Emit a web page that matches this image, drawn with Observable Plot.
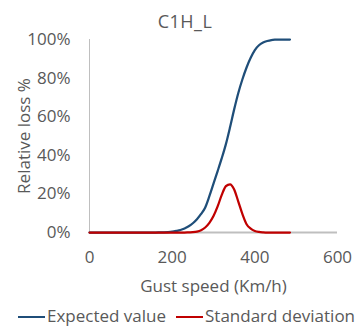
<!DOCTYPE html>
<html>
<head>
<meta charset="utf-8">
<script src="https://cdn.jsdelivr.net/npm/d3@7"></script>
<script src="https://cdn.jsdelivr.net/npm/@observablehq/plot@0.6"></script>
<style>
  body { margin: 0; background: #fff; font-family: "Open Sans", sans-serif; color: #595959; }
  #wrap { width: 362px; height: 329px; position: relative; overflow: hidden; }
  #title { position: absolute; left: 0; top: 9px; width: 370px; text-align: center; font-size: 18px; line-height: 24px; letter-spacing: 0.5px; z-index: 2; }
  #chart { position: absolute; left: 0; top: 28px; z-index: 1; }
  .lg { position: absolute; top: 304px; font-size: 17px; line-height: 24px; white-space: nowrap; }
  .sw { position: absolute; top: 316px; width: 27px; height: 0; border-top: 2.5px solid; }
</style>
</head>
<body>
<div id="wrap">
  <div id="title"></div>
  <div id="chart"></div>
  <div id="legend"></div>
</div>
<script>
const title = "C1H_L";
const xLabel = "Gust speed (Km/h)";
const yLabel = "Relative loss %";
const seriesNames = ["Expected value", "Standard deviation"];
const seriesColors = ["#1F4E79", "#C00000"];
const xTicks = [0, 200, 400, 600];
const yTicks = [0, 0.2, 0.4, 0.6, 0.8, 1.0];

const speed = [0,10,20,30,40,50,60,70,80,90,100,110,120,130,140,150,160,170,180,190,200,210,220,230,240,250,260,270,280,290,300,310,320,330,340,350,360,370,380,390,400,410,420,430,440,450,460,470,480,485];
const expected = [0,0,0,0,0,0,0,0,0,0,0,0,0,0,0,0,0,0.05,0.1,0.2,0.4,0.8,1.3,2.1,3.2,4.8,6.9,9.6,13.0,18.8,25.3,31.8,38.5,45.8,54.5,63.8,72.3,79.4,85.5,90.5,94.5,97.0,98.4,99.2,99.7,99.9,100,100,100,100];
const stdev = [0,0,0,0,0,0,0,0,0,0,0,0,0,0,0,0,0,0,0,0,0,0,0,0,0.1,0.2,0.5,1.2,2.6,5.0,8.5,13.5,19.5,24.0,25.0,22.3,16.0,9.5,4.3,2.0,0.8,0.3,0.1,0,0,0,0,0,0,0];

document.getElementById("title").textContent = title;

const data = [];
speed.forEach((s, i) => {
  data.push({speed: s, value: expected[i] / 100, series: seriesNames[0]});
  data.push({speed: s, value: stdev[i] / 100, series: seriesNames[1]});
});

const chart = Plot.plot({
  width: 362,
  height: 272,
  marginLeft: 89,
  marginRight: 25,
  marginTop: 11,
  marginBottom: 68,
  style: {fontFamily: "Open Sans, sans-serif", fontSize: "17px", color: "#595959", background: "transparent"},
  x: {domain: [0, 600]},
  y: {domain: [0, 1]},
  color: {domain: seriesNames, range: seriesColors},
  marks: [
    Plot.axisX({ticks: xTicks, tickSize: 0, tickPadding: 18, label: xLabel, labelAnchor: "center", labelArrow: "none", labelOffset: 59, fill: "#595959"}),
    Plot.axisY({ticks: yTicks, tickFormat: d3.format(".0%"), tickSize: 0, tickPadding: 19, label: yLabel, labelAnchor: "center", labelArrow: "none", labelOffset: 72, fill: "#595959"}),
    Plot.ruleX([0], {stroke: "#BFBFBF", strokeWidth: 1}),
    Plot.ruleY([0], {stroke: "#BFBFBF", strokeWidth: 2}),
    Plot.line(data, {x: "speed", y: "value", z: "series", stroke: "series", strokeWidth: 2.25, curve: "monotone-x"})
  ]
});
document.getElementById("chart").appendChild(chart);

const legend = document.getElementById("legend");
const swX = [18, 176];
const txX = [47, 205];
legend.innerHTML = seriesNames.map((n, i) =>
  `<div class="sw" style="left:${swX[i]}px;border-color:${seriesColors[i]}"></div><div class="lg" style="left:${txX[i]}px">${n}</div>`
).join("");
</script>
</body>
</html>
